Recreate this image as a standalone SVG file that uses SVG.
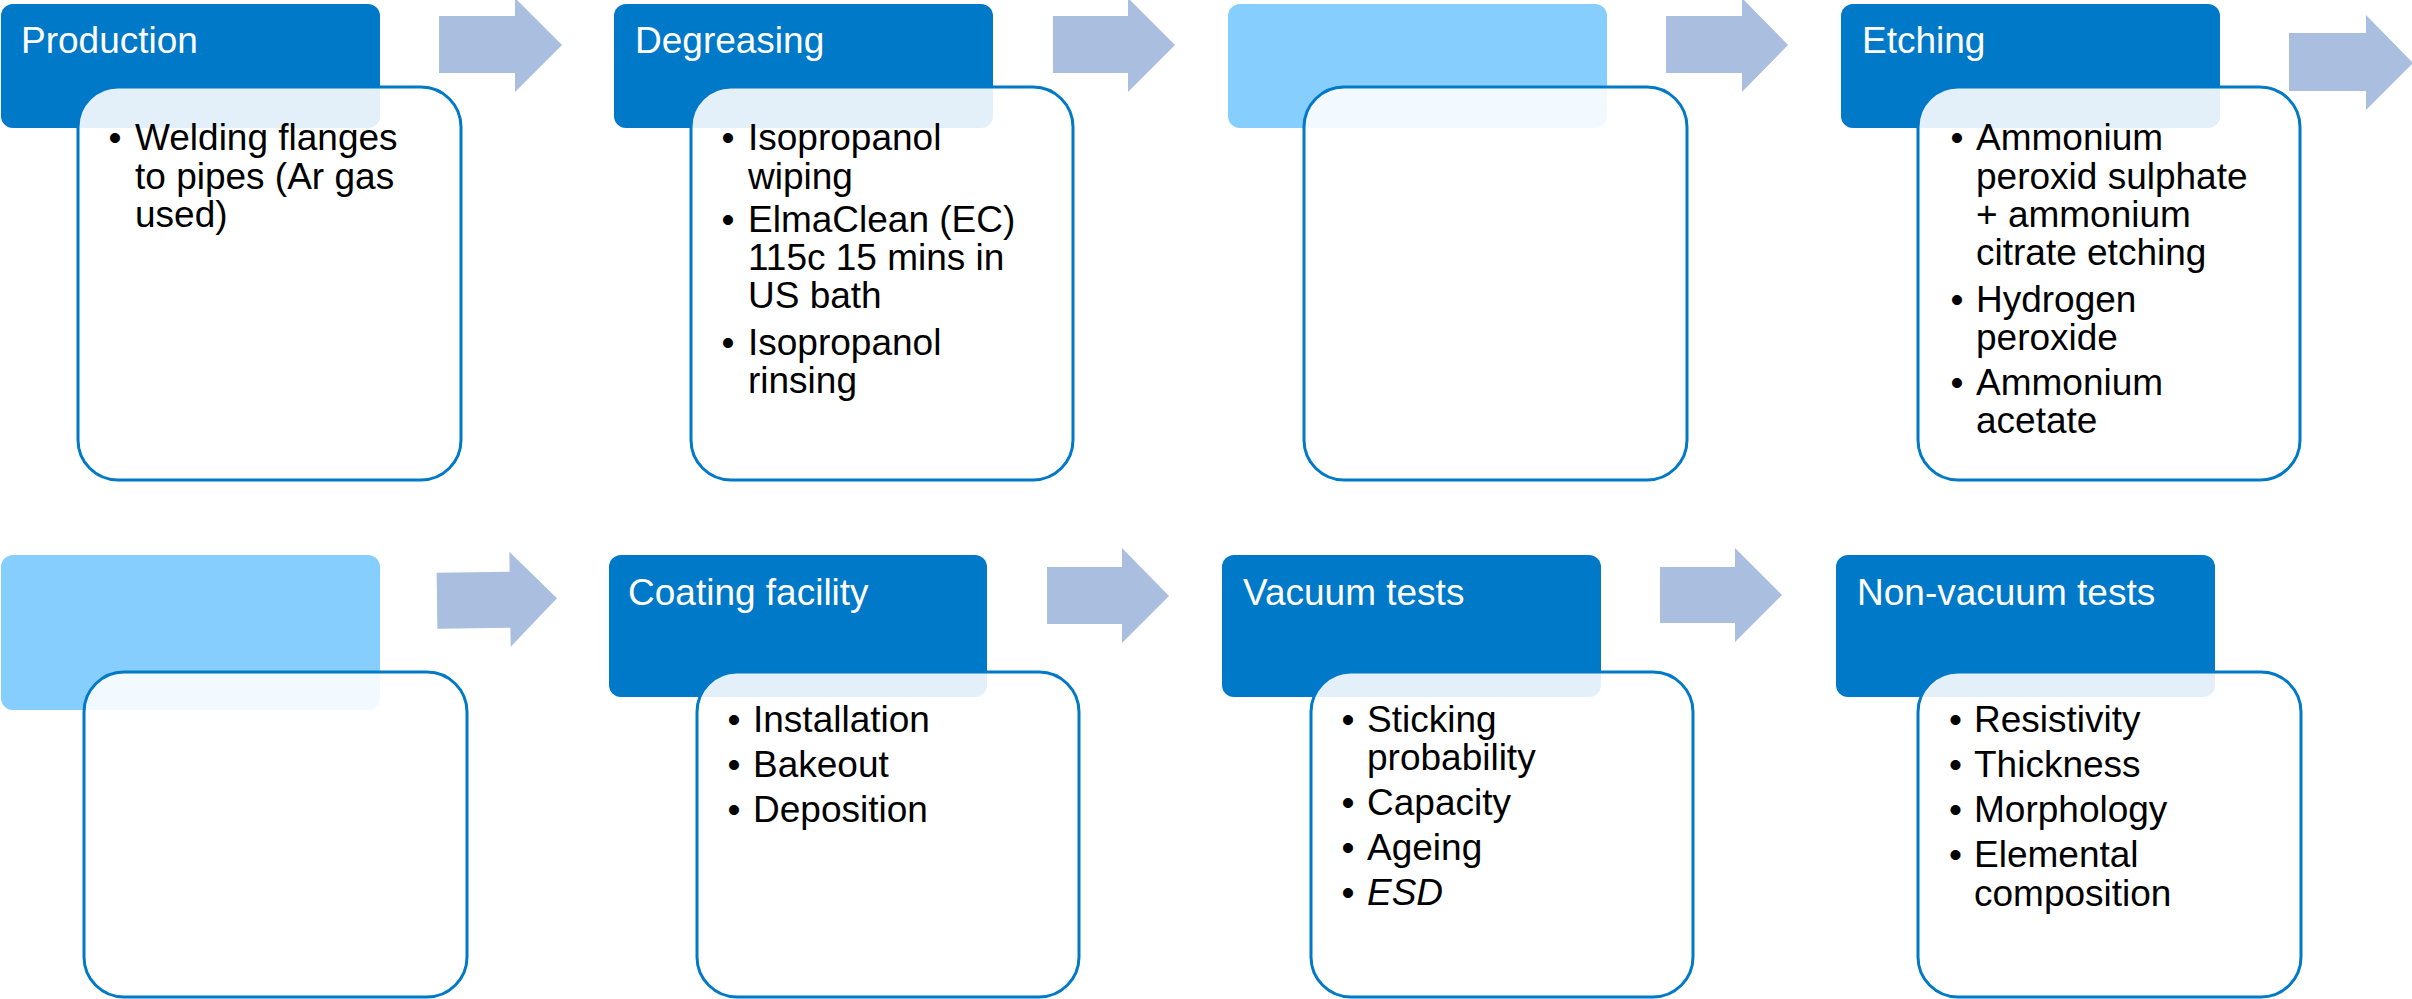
<svg xmlns="http://www.w3.org/2000/svg" width="2412" height="999" viewBox="0 0 2412 999">
<style>
.hd{fill:#0079C8}
.hl{fill:#86CEFE}
.bd{fill:#FFFFFF;fill-opacity:0.89;stroke:#0079C8;stroke-width:3}
.ht{font-family:"Liberation Sans",Arial,sans-serif;font-size:37px;fill:#FFFFFF}
.bt{font-family:"Liberation Sans",Arial,sans-serif;font-size:37px;fill:#000000}
.ar{fill:#AABEDF}
</style>
<rect width="2412" height="999" fill="#FFFFFF"/>
<g id="connectors">
<polygon class="ar" points="439,16 515,16 515,-2 562,45 515,92 515,73 439,73"/>
<polygon class="ar" points="1053,16 1128,16 1128,-2 1175,45 1128,92 1128,73 1053,73"/>
<polygon class="ar" points="1666,16 1742,16 1742,-2 1788,45 1742,92 1742,73 1666,73"/>
<polygon class="ar" points="2289,33 2366,33 2366,15 2413,63 2366,110 2366,91 2289,91"/>
<polygon class="ar" points="437,572 510,572 510,552 557,599 510,647 510,628 437,628" transform="rotate(-0.8 497 600)"/>
<polygon class="ar" points="1047,567 1122,567 1122,548 1169,596 1122,643 1122,624 1047,624"/>
<polygon class="ar" points="1660,567 1735,567 1735,548 1782,595 1735,642 1735,623 1660,623"/>
</g>
<g id="production">
<rect class="hd" x="1" y="4" width="379" height="124" rx="12"/>
<rect class="bd" x="78" y="87" width="383" height="393" rx="40"/>
<text class="ht" x="21" y="53">Production</text>
<text class="bt" x="108.5" y="150">•</text>
<text class="bt"><tspan x="135" y="150">Welding flanges</tspan><tspan x="135" y="188.5">to pipes (Ar gas</tspan><tspan x="135" y="227">used)</tspan></text>
</g>
<g id="degreasing">
<rect class="hd" x="614" y="4" width="379" height="124" rx="12"/>
<rect class="bd" x="691" y="87" width="382" height="393" rx="40"/>
<text class="ht" x="635" y="53">Degreasing</text>
<text class="bt" x="721.5" y="150">•</text>
<text class="bt"><tspan x="748" y="150">Isopropanol</tspan><tspan x="748" y="188.5">wiping</tspan></text>
<text class="bt" x="721.5" y="232">•</text>
<text class="bt"><tspan x="748" y="232">ElmaClean (EC)</tspan><tspan x="748" y="270">115c 15 mins in</tspan><tspan x="748" y="308">US bath</tspan></text>
<text class="bt" x="721.5" y="355">•</text>
<text class="bt"><tspan x="748" y="355">Isopropanol</tspan><tspan x="748" y="393">rinsing</tspan></text>
</g>
<g id="step3">
<rect class="hl" x="1228" y="4" width="379" height="124" rx="12"/>
<rect class="bd" x="1304" y="87" width="383" height="393" rx="40"/>
</g>
<g id="etching">
<rect class="hd" x="1841" y="4" width="379" height="124" rx="12"/>
<rect class="bd" x="1918" y="87" width="382" height="393" rx="40"/>
<text class="ht" x="1862" y="53">Etching</text>
<text class="bt" x="1950.5" y="150">•</text>
<text class="bt"><tspan x="1976" y="150">Ammonium</tspan><tspan x="1976" y="188.5">peroxid sulphate</tspan><tspan x="1976" y="227">+ ammonium</tspan><tspan x="1976" y="265">citrate etching</tspan></text>
<text class="bt" x="1950.5" y="312">•</text>
<text class="bt"><tspan x="1976" y="312">Hydrogen</tspan><tspan x="1976" y="350">peroxide</tspan></text>
<text class="bt" x="1950.5" y="395">•</text>
<text class="bt"><tspan x="1976" y="395">Ammonium</tspan><tspan x="1976" y="433">acetate</tspan></text>
</g>
<g id="step5">
<rect class="hl" x="1" y="555" width="379" height="155" rx="12"/>
<rect class="bd" x="84" y="672" width="383" height="325" rx="40"/>
</g>
<g id="coating">
<rect class="hd" x="609" y="555" width="378" height="142" rx="12"/>
<rect class="bd" x="697" y="672" width="382" height="325" rx="40"/>
<text class="ht" x="628" y="605">Coating facility</text>
<text class="bt" x="727.5" y="732">•</text>
<text class="bt" x="753" y="732">Installation</text>
<text class="bt" x="727.5" y="777">•</text>
<text class="bt" x="753" y="777">Bakeout</text>
<text class="bt" x="727.5" y="822">•</text>
<text class="bt" x="753" y="822">Deposition</text>
</g>
<g id="vacuum">
<rect class="hd" x="1222" y="555" width="379" height="142" rx="12"/>
<rect class="bd" x="1311" y="672" width="382" height="325" rx="40"/>
<text class="ht" x="1243" y="605">Vacuum tests</text>
<text class="bt" x="1341.5" y="732">•</text>
<text class="bt"><tspan x="1367" y="732">Sticking</tspan><tspan x="1367" y="770">probability</tspan></text>
<text class="bt" x="1341.5" y="815">•</text>
<text class="bt" x="1367" y="815">Capacity</text>
<text class="bt" x="1341.5" y="860">•</text>
<text class="bt" x="1367" y="860">Ageing</text>
<text class="bt" x="1341.5" y="905">•</text>
<text class="bt" x="1367" y="905" font-style="italic">ESD</text>
</g>
<g id="nonvacuum">
<rect class="hd" x="1836" y="555" width="379" height="142" rx="12"/>
<rect class="bd" x="1918" y="672" width="383" height="325" rx="40"/>
<text class="ht" x="1857" y="605">Non-vacuum tests</text>
<text class="bt" x="1949" y="732">•</text>
<text class="bt" x="1974" y="732">Resistivity</text>
<text class="bt" x="1949" y="777">•</text>
<text class="bt" x="1974" y="777">Thickness</text>
<text class="bt" x="1949" y="822">•</text>
<text class="bt" x="1974" y="822">Morphology</text>
<text class="bt" x="1949" y="867">•</text>
<text class="bt"><tspan x="1974" y="867">Elemental</tspan><tspan x="1974" y="906">composition</tspan></text>
</g>
</svg>
